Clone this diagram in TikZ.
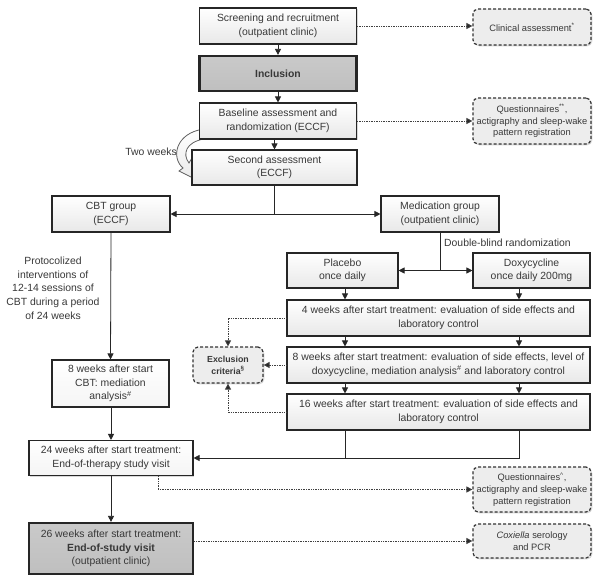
\documentclass[tikz,border=0pt]{standalone}
\usepackage{fontspec}
\setmainfont{Liberation Sans}
\usetikzlibrary{arrows.meta,shadows}
\definecolor{txt}{HTML}{383838}
\definecolor{edge}{HTML}{262626}
\begin{document}
\begin{tikzpicture}[x=1pt,y=-1pt,
  shad/.style={drop shadow={shadow xshift=1.3pt,shadow yshift=-1.3pt,opacity=0.25,fill=black!60}},
  box/.style={draw=edge, line width=1.1pt, top color=white, bottom color=black!9, text=txt,
    align=center, inner sep=0pt, font=\fontsize{10.4}{13.5}\selectfont, shad},
  bx/.style 2 args={box, minimum width=#1, minimum height=#2},
  darkbox/.style 2 args={bx={#1}{#2}, line width=2.2pt, top color=black!21, bottom color=black!25},
  whitebox/.style 2 args={bx={#1}{#2}, top color=white, bottom color=black!4},
  dbox/.style 2 args={draw=black!80, dash pattern=on 3pt off 2pt, line width=1.2pt, rounded corners=5pt,
    fill=black!7, text=txt, align=center, inner sep=0pt, minimum width=#1, minimum height=#2,
    font=\fontsize{9.3}{11.7}\selectfont, shad},
  lbl/.style={text=txt, font=\fontsize{10.4}{13.7}\selectfont, align=center, inner sep=0pt},
  arr/.style={draw=edge, line width=0.8pt, -{Triangle[length=6pt,width=6pt]}},
  ln/.style={draw=edge, line width=0.8pt},
  dotarr/.style={draw=black!75, line width=0.9pt, dash pattern=on 0.9pt off 0.8pt, -{Triangle[length=6pt,width=6pt,fill=edge]}}
]
\useasboundingbox (0,0) rectangle (600,581);
\fill[white] (0,0) rectangle (600,581);

% curved "two weeks" arrow
\filldraw[draw=black!60, top color=white, bottom color=black!8, line width=0.8pt]
  (204,129) .. controls (175,133) and (171,158) .. (183,168) -- (179,171) -- (193,178) -- (192,158)
  -- (189,163) .. controls (182,154) and (186,142) .. (204,139) -- cycle;

% main column
\node[bx={157}{36}] (scr) at (278,26) {Screening and recruitment\\(outpatient clinic)};
\node[darkbox={157}{35}] (inc) at (278,73.5) {\bfseries Inclusion};
\node[bx={157}{36}] (base) at (278,121) {Baseline assessment and\\randomization (ECCF)};
\node[bx={165}{35}] (sec) at (274.5,167.5) {Second assessment\\(ECCF)};

\node[bx={118}{36}] (cbt) at (111,214) {CBT group\\(ECCF)};
\node[bx={118}{36}] (med) at (440,214) {Medication group\\(outpatient clinic)};

\node[bx={111}{35}] (plac) at (342.5,270.5) {Placebo\\once daily};
\node[bx={117}{35}] (doxy) at (531.5,270.5) {Doxycycline\\once daily 200mg};

\node[bx={303}{36}] (w4) at (438.5,318) {4 weeks after start treatment: evaluation of side effects and\\laboratory control};
\node[bx={303}{36}] (w8) at (438.5,365) {8 weeks after start treatment: evaluation of side effects, level of\\doxycycline, mediation analysis\textsuperscript{\#} and laboratory control};
\node[bx={303}{36}] (w16) at (438.5,412) {16 weeks after start treatment: evaluation of side effects and\\laboratory control};

\node[dbox={70}{36}, font=\fontsize{8.8}{12}\selectfont\bfseries] (excl) at (228,365) {Exclusion\\criteria\textsuperscript{§}};

\node[whitebox={117}{47}] (cbt8) at (110.5,383.5) {8 weeks after start\\CBT: mediation\\analysis\textsuperscript{\#}};
\node[whitebox={164}{35}] (w24) at (111,458) {24 weeks after start treatment:\\End-of-therapy study visit};
\node[darkbox={164}{51}] (w26) at (111,548.5) {26 weeks after start treatment:\\\textbf{End-of-study visit}\\(outpatient clinic)};

% dashed side boxes
\node[dbox={118}{36}] (clin) at (532,27) {Clinical assessment\textsuperscript{*}};
\node[dbox={118}{46}] (q1) at (532,121) {Questionnaires\textsuperscript{**},\\actigraphy and sleep-wake\\pattern registration};
\node[dbox={118}{45}] (q2) at (532,489.5) {Questionnaires\textsuperscript{\textasciicircum},\\actigraphy and sleep-wake\\pattern registration};
\node[dbox={118}{34}] (cox) at (532,541) {\textit{Coxiella} serology\\and PCR};

% labels
\node[lbl, anchor=east] (twow) at (177,152) {Two weeks};
\node[lbl] (proto) at (53,288) {Protocolized\\interventions of\\12-14 sessions of\\CBT during a period\\of 24 weeks};
\node[lbl, anchor=west] (dbr) at (444,243) {Double-blind randomization};

% column coordinates
\coordinate (ca) at (345,0);
\coordinate (cb) at (519,0);

% connectors main column
\draw[arr] (scr) -- (inc);
\draw[arr] (inc) -- (base);
\draw[arr] (base.south -| sec.south) -- (sec.north);
\coordinate (js) at (sec.south |- cbt.east);
\draw[ln] (sec.south) -- (js);
\draw[arr] (js) -- (cbt.east);
\draw[arr] (js) -- (med.west);

\coordinate (jm) at (med.south |- plac.east);
\draw[ln] (med.south) -- (jm);
\draw[arr] (jm) -- (plac.east);
\draw[arr] (jm) -- (doxy.west);

\draw[arr] (plac.south -| ca) -- (w4.north -| ca);
\draw[arr] (doxy.south -| cb) -- (w4.north -| cb);
\draw[arr] (w4.south -| ca) -- (w8.north -| ca);
\draw[arr] (w4.south -| cb) -- (w8.north -| cb);
\draw[arr] (w8.south -| ca) -- (w16.north -| ca);
\draw[arr] (w8.south -| cb) -- (w16.north -| cb);

\draw[ln] (w16.south -| ca) -- (ca |- w24.east);
\draw[arr] (w16.south -| cb) |- (w24.east);

\draw[arr] (cbt.south) -- (cbt8.north);
\draw[arr] (cbt8.south -| w24.north) -- (w24.north);
\draw[arr] (w24.south) -- (w26.north);

% dotted connectors
\draw[dotarr] (scr.east) -- (clin.west |- scr.east);
\draw[dotarr] (base.east) -- (q1.west);
\draw[dotarr] (w4.west) -| (excl.north);
\draw[dotarr] (w8.west) -- (excl.east);
\draw[dotarr] (w16.west) -| (excl.south);
\draw[dotarr] ([xshift=47pt]w24.south) |- (q2.west);
\draw[dotarr] (w26.east |- cox.west) -- (cox.west);
\end{tikzpicture}
\end{document}
